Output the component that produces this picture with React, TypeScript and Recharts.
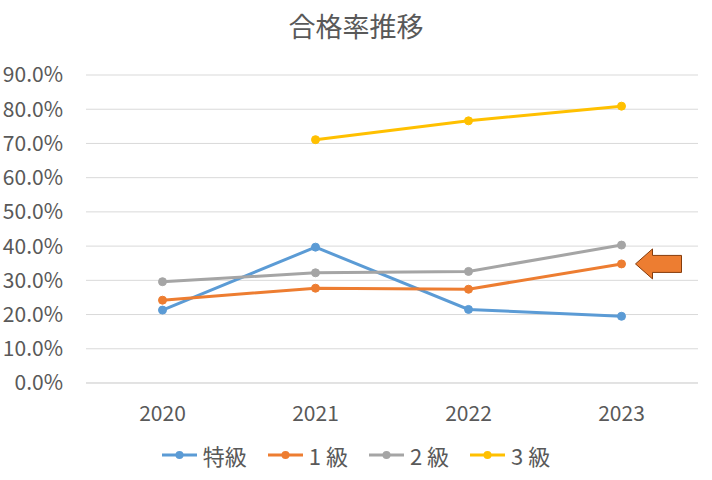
import React from 'react';
import { LineChart, Line, XAxis, YAxis, CartesianGrid, ReferenceDot } from 'recharts';

const years = ['2020', '2021', '2022', '2023'];
const tokkyu = [21.3, 39.7, 21.5, 19.5];
const kyu1 = [24.2, 27.7, 27.4, 34.8];
const kyu2 = [29.6, 32.2, 32.6, 40.3];
const kyu3: (number | null)[] = [null, 71.1, 76.6, 80.9];
const yTicks = [0, 10, 20, 30, 40, 50, 60, 70, 80, 90];

const seriesNames = ['特級', '1 級', '2 級', '3 級'];
const seriesKeys = ['s0', 's1', 's2', 's3'];
const seriesColors = ['#5B9BD5', '#ED7D31', '#A5A5A5', '#FFC000'];
const seriesValues = [tokkyu, kyu1, kyu2, kyu3];

const data = years.map((y, i) => {
  const row: any = { year: y };
  seriesKeys.forEach((k, j) => {
    row[k] = seriesValues[j][i];
  });
  return row;
});

const FONT = '"Noto Sans CJK JP", "Noto Sans", sans-serif';
const TEXT = '#595959';

const Arrow = (props: any) => {
  const { cx, cy } = props;
  if (cx == null || cy == null) return null;
  const tip = cx + 14;
  const base = tip + 17;
  const end = tip + 46;
  const d = `M${tip},${cy} L${base},${cy - 15} L${base},${cy - 8.5} L${end},${cy - 8.5} L${end},${cy + 8.5} L${base},${cy + 8.5} L${base},${cy + 15} Z`;
  return <path d={d} fill="#ED7D31" stroke="#843C0C" strokeWidth={1} />;
};

export default function App() {
  return (
    <div style={{ position: 'absolute', left: 0, top: 0, width: 712, height: 480, background: '#fff', fontFamily: FONT }}>
      <div style={{ position: 'absolute', left: 0, top: 8, width: 712, textAlign: 'center', fontSize: 27, color: TEXT, lineHeight: '36px' }}>
        合格率推移
      </div>
      <LineChart width={712} height={480} data={data} margin={{ top: 75, right: 14, left: 0, bottom: 67 }}>
        <CartesianGrid vertical={false} stroke="#D9D9D9" strokeWidth={1} />
        <XAxis
          dataKey="year"
          padding={{ left: 76.5, right: 76.5 }}
          axisLine={{ stroke: '#D9D9D9' }}
          tickLine={false}
          tickMargin={17}
          tick={{ fill: TEXT, fontSize: 21, fontFamily: FONT }}
          height={30}
        />
        <YAxis
          domain={[0, 90]}
          ticks={yTicks}
          width={86}
          axisLine={false}
          tickLine={false}
          tickMargin={17}
          interval={0}
          tickFormatter={(v: number) => v.toFixed(1) + '%'}
          tick={{ fill: TEXT, fontSize: 21, fontFamily: FONT }}
        />
        {seriesKeys.map((k, j) => (
          <Line
            key={k}
            type="linear"
            dataKey={k}
            name={seriesNames[j]}
            stroke={seriesColors[j]}
            strokeWidth={3}
            dot={{ r: 4, fill: seriesColors[j], stroke: seriesColors[j], strokeWidth: 1 }}
            isAnimationActive={false}
          />
        ))}
        <ReferenceDot x={years[3]} y={kyu1[3]} shape={Arrow} />
      </LineChart>
      <div style={{ position: 'absolute', left: 0, top: 440, width: 712, height: 30, display: 'flex', justifyContent: 'center', alignItems: 'center', gap: 21 }}>
        {seriesNames.map((n, j) => (
          <div key={n} style={{ display: 'flex', alignItems: 'center' }}>
            <svg width={35} height={12} style={{ marginRight: 6 }}>
              <line x1={0} y1={6} x2={35} y2={6} stroke={seriesColors[j]} strokeWidth={3} />
              <circle cx={17.5} cy={6} r={4} fill={seriesColors[j]} />
            </svg>
            <span style={{ fontSize: 22, color: TEXT, lineHeight: '30px' }}>{n}</span>
          </div>
        ))}
      </div>
    </div>
  );
}
